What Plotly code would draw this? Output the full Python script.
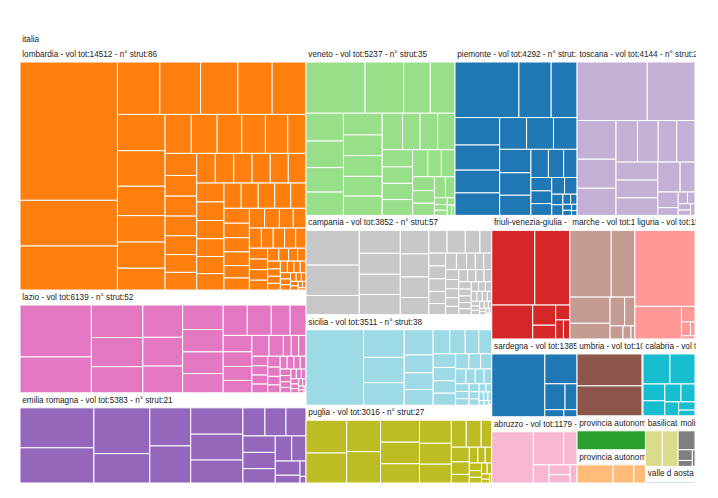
import plotly.graph_objects as go

regions = ["lombardia", "lazio", "emilia romagna", "veneto", "piemonte", "toscana",
           "campania", "sicilia", "puglia", "friuli-venezia-giulia", "marche", "liguria",
           "sardegna", "abruzzo", "umbria", "calabria", "provincia autonoma di bolzano",
           "provincia autonoma di trento", "basilicata", "molise", "valle d aosta"]
vol_tot = [14512, 6139, 5383, 5237, 4292, 4144, 3852, 3511, 3016, 2015, 1679, 1550,
           1385, 1179, 1059, 834, 485, 475, 345, 178, 172]
region_colors = ["#ff7f0e", "#e377c2", "#9467bd", "#98df8a", "#1f77b4", "#c5b0d5",
                 "#c7c7c7", "#9edae5", "#bcbd22", "#d62728", "#c49c94", "#ff9896",
                 "#1f77b4", "#f7b6d2", "#8c564b", "#17becf", "#2ca02c", "#ffbb78",
                 "#dbdb8d", "#7f7f7f", "#aec7e8"]

lombardia = [2999, 990, 955, 495, 475, 435, 400, 395, 385, 377, 312, 280, 278, 231, 227,
             224, 213, 205, 194, 158, 155, 145, 140, 138, 132, 125, 124, 123, 122, 121,
             120, 119, 117, 115, 113, 111, 108, 104, 100, 97, 95, 93, 90, 86, 84, 82, 80,
             77, 70, 68, 67, 65, 61, 56, 54, 53, 51, 50, 46, 44, 43, 43, 40, 32, 28, 26,
             24, 22, 21, 20, 19, 18, 17, 16, 15, 14, 13, 12, 11, 10, 9, 8, 7, 6, 5, 4]
lazio = [906, 626, 409, 367, 329, 314, 280, 260, 243, 222, 215, 191, 179, 178, 140, 118,
         115, 103, 98, 87, 87, 73, 40, 38, 37, 37, 36, 35, 34, 33, 28, 26, 24, 22, 21, 20,
         18, 17, 16, 15, 14, 13, 12, 11, 10, 9, 8, 7, 6, 5, 4, 3]
emilia_romagna = [740, 651, 641, 411, 390, 380, 344, 339, 300, 155, 148, 141, 133, 132,
                  116, 103, 90, 88, 48, 23, 10]
veneto = [693, 454, 313, 290, 239, 228, 210, 200, 192, 184, 184, 175, 171, 170, 147, 147,
          145, 119, 115, 113, 110, 94, 84, 84, 70, 63, 61, 53, 46, 20, 17, 15, 13, 10, 8]
piemonte = [814, 411, 330, 281, 257, 233, 230, 196, 196, 172, 168, 161, 144, 113, 98, 87,
            64, 61, 56, 49, 48, 27, 27, 18, 15, 12, 10, 8, 6]
toscana = [941, 641, 345, 259, 242, 204, 198, 176, 174, 172, 170, 168, 153, 102, 73, 36,
           25, 20, 18, 15, 12]
campania = [455, 398, 252, 231, 211, 204, 204, 166, 162, 144, 121, 102, 102, 82, 66, 53,
            53, 52, 50, 46, 44, 41, 36, 34, 33, 32, 30, 29, 28, 27, 26, 25, 24, 23, 22, 21,
            20, 19, 18, 17, 16, 15, 14, 13, 12, 11, 10, 9, 9, 8, 7, 6, 5, 5, 4, 3, 2]
sicilia = [1089, 281, 257, 229, 183, 129, 121, 114, 100, 93, 82, 78, 77, 75, 70, 68, 50,
           45, 42, 38, 35, 32, 29, 26, 24, 22, 20, 18, 16, 14, 12, 10, 9, 8, 6, 5, 3, 1]
puglia = [345, 315, 275, 275, 221, 218, 194, 190, 172, 155, 104, 104, 74, 68, 58, 40, 35,
          30, 27, 24, 21, 18, 16, 13, 11, 8, 5]
friuli = [764, 622, 330, 110, 75, 50, 35, 29]
marche = [656, 376, 250, 150, 100, 70, 40, 25, 12]
liguria = [1085, 360, 50, 30, 15, 10]
sardegna = [863, 248, 135, 80, 35, 24]
abruzzo = [575, 271, 119, 77, 55, 48, 34]
umbria = [540, 505, 14]
calabria = [210, 195, 95, 85, 75, 65, 50, 35, 24]
bolzano = [485]
trento = [250, 145, 80]
basilicata = [178, 167]
molise = [95, 45, 25, 13]
valle_aosta = [172]

children = [lombardia, lazio, emilia_romagna, veneto, piemonte, toscana, campania, sicilia,
            puglia, friuli, marche, liguria, sardegna, abruzzo, umbria, calabria, bolzano,
            trento, basilicata, molise, valle_aosta]

NB = "\u00a0"  # small left indent of header texts
ids, labels, parents, values, colors = [], [], [], [], []
ids.append("italia"); labels.append(NB + "italia"); parents.append(""); values.append(0)
colors.append("white")
for name, tot, col, ch in zip(regions, vol_tot, region_colors, children):
    ids.append(name); parents.append("italia"); values.append(0)
    colors.append("white")
    labels.append(f"{NB}{name} - vol tot:{tot} - n° strut:{len(ch)}")
    for i, v in enumerate(ch):
        ids.append(f"{name}/{i}"); labels.append("")
        parents.append(name); values.append(v); colors.append(col)

fig = go.Figure(go.Treemap(
    ids=ids, labels=labels, parents=parents, values=values,
    branchvalues="remainder",
    textinfo="label",
    textposition="top left",
    marker=dict(colors=colors, line=dict(color="white", width=1),
                pad=dict(t=15, l=0, r=0, b=0)),
    tiling=dict(pad=0, squarifyratio=1.618),
    pathbar=dict(visible=False),
    textfont=dict(family="Arial", size=8.2, color="#222"),
    root=dict(color="white"),
))
fig.update_layout(width=718, height=498, margin=dict(l=20, r=23, t=32, b=15),
                  paper_bgcolor="white",
                  uniformtext=dict(minsize=8.2, mode="show"))
# mask the header texts that run past the right edge of the treemap
fig.add_shape(type="rect", xref="paper", yref="paper", x0=1.001, x1=1.06, y0=-0.05,
              y1=1.08, fillcolor="white", line=dict(width=0), layer="above")
fig.write_html("out.html")
